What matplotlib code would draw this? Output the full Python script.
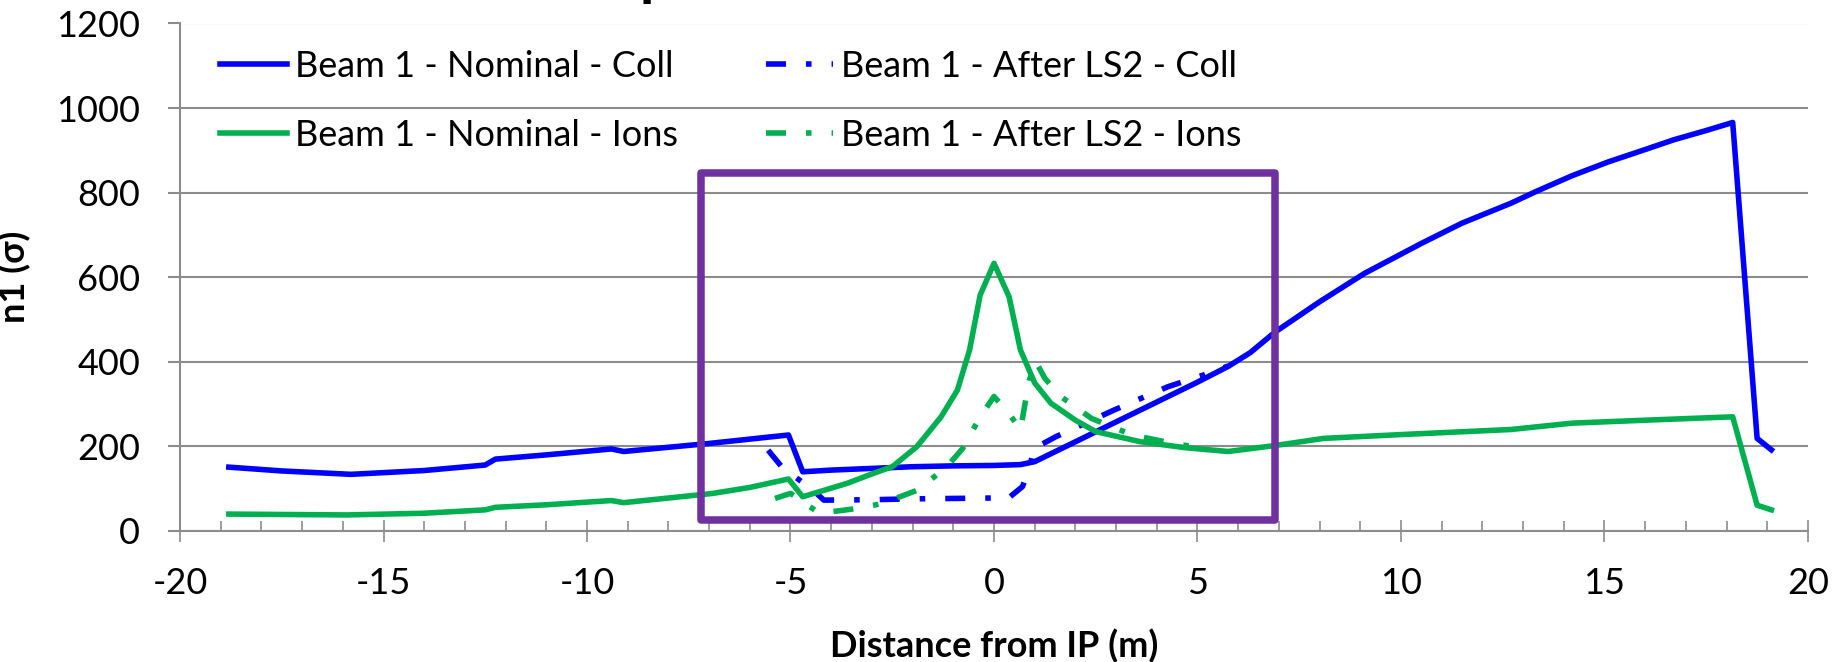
"""
n1 aperture vs distance from IP (Beam 1, nominal vs after LS2).
"""

from __future__ import annotations

import matplotlib
matplotlib.use("Agg")
import matplotlib.pyplot as plt
from matplotlib.patches import Rectangle
from matplotlib.ticker import MultipleLocator

# ---- data ----
x_nom_coll = [-18.8, -17.5, -15.8, -14.0, -12.5, -12.25, -11.0, -9.4, -9.1, -7.0,
              -5.05, -4.7, -4.0, -3.0, -2.0, -1.0, 0.0, 0.65, 1.0, 2.0, 3.0, 4.0,
              5.0, 5.75, 6.3, 6.9, 8.0, 9.1, 10.5, 11.5, 12.7, 13.3, 14.2, 15.1,
              16.0, 16.7, 17.5, 18.15, 18.75, 19.1]
y_nom_coll = [151, 142, 134, 143, 156, 170, 180, 194, 188, 207,
              227, 140, 144, 148, 152, 154, 155, 157, 164, 211, 258, 305,
              352, 389, 422, 470, 542, 609, 680, 728, 775, 802, 840, 873,
              902, 925, 947, 966, 219, 192]

x_ls2_coll = [-5.55, -5.2, -4.45, -4.18, -3.0, -2.0, -1.0, 0.0, 0.37, 0.7, 0.87,
              0.98, 1.52, 2.95, 4.27, 5.15, 5.75]
y_ls2_coll = [191, 150, 97, 73, 74, 76, 77, 78, 79, 105, 148,
              195, 223, 286, 341, 369, 390]

x_nom_ions = [-18.8, -15.9, -14.0, -12.5, -12.25, -11.0, -9.4, -9.1, -6.9, -6.0,
              -5.05, -4.7, -3.6, -3.0, -2.5, -1.9, -1.3, -0.9, -0.6, -0.34, 0.0,
              0.37, 0.65, 1.0, 1.4, 2.0, 2.5, 3.6, 4.7, 5.75, 6.9, 8.1, 10.0,
              12.7, 14.2, 16.0, 18.15, 18.75, 19.1]
y_nom_ions = [40, 38, 42, 50, 56, 62, 72, 67, 89, 103,
              123, 81, 113, 135, 152, 199, 270, 333, 428, 558, 633,
              554, 428, 350, 302, 262, 235, 211, 197, 188, 202, 219, 228,
              240, 255, 262, 270, 61, 50]

x_ls2_ions = [-5.38, -5.0, -4.29, -3.3, -2.75, -1.87, -1.16, -0.77, -0.34, 0.0,
              0.37, 0.65, 0.75, 0.87, 1.03, 1.25, 1.64, 2.4, 3.4, 4.4, 5.0]
y_ls2_ions = [77, 89, 42, 54, 65, 97, 152, 195, 270, 318,
              278, 239, 294, 357, 400, 361, 318, 266, 227, 207, 198]

labels = ["Beam 1 - Nominal - Coll", "Beam 1 - After LS2 - Coll",
          "Beam 1 - Nominal - Ions", "Beam 1 - After LS2 - Ions"]

BLUE = "#0000FF"
GREEN = "#00B050"
PURPLE = "#7030A0"
GRID = "#8C8C8C"
DASHDOT = (0, (3.6, 3.6, 1.0, 3.6))

plt.rcParams["font.family"] = ["Lato", "DejaVu Sans"]
plt.rcParams["font.size"] = 26
plt.rcParams["axes.unicode_minus"] = False


def main() -> None:
    fig = plt.figure(figsize=(18.41, 6.62), dpi=100)
    ax = fig.add_axes([180 / 1841, 131 / 662, 1628 / 1841, 507.5 / 662])

    lw = 4.0
    h_nc, = ax.plot(x_nom_coll, y_nom_coll, color=BLUE, lw=lw, solid_joinstyle="round")
    h_lc, = ax.plot(x_ls2_coll, y_ls2_coll, color=BLUE, lw=lw, linestyle=DASHDOT)
    h_ni, = ax.plot(x_nom_ions, y_nom_ions, color=GREEN, lw=lw, solid_joinstyle="round")
    h_li, = ax.plot(x_ls2_ions, y_ls2_ions, color=GREEN, lw=lw, linestyle=DASHDOT)

    # highlighted region around the IP
    ax.add_patch(Rectangle((-7.2, 26), 14.1, 821, fill=False, edgecolor=PURPLE,
                           linewidth=5.4, joinstyle="round", zorder=5))

    ax.set_xlim(-20, 20)
    ax.set_ylim(0, 1200)
    ax.xaxis.set_major_locator(MultipleLocator(5))
    ax.xaxis.set_minor_locator(MultipleLocator(1))
    ax.yaxis.set_major_locator(MultipleLocator(200))

    ax.grid(axis="y", color=GRID, lw=1.5)
    ax.set_axisbelow(True)
    for side in ("top", "right"):
        ax.spines[side].set_visible(False)
    for side in ("left", "bottom"):
        ax.spines[side].set_color(GRID)
        ax.spines[side].set_linewidth(1.5)

    ax.tick_params(axis="y", which="major", direction="out", length=8.6, width=1.5,
                   color=GRID, pad=20)
    ax.tick_params(axis="x", which="major", direction="inout", length=16.5, width=1.2,
                   color=GRID, pad=17.5)
    ax.tick_params(axis="x", which="minor", direction="in", length=7, width=1.2,
                   color=GRID)

    ax.set_xlabel("Distance from IP (m)", fontweight="bold", labelpad=21)
    ax.set_ylabel("n1 (σ)", fontweight="bold", labelpad=18)

    ax.legend([h_nc, h_ni, h_lc, h_li],
              [labels[0], labels[2], labels[1], labels[3]],
              ncol=2, loc="upper left", bbox_to_anchor=(0.0246, 0.948),
              frameon=False, borderpad=0, borderaxespad=0,
              handlelength=1.85, handletextpad=0.22, columnspacing=2.45,
              labelspacing=1.0)

    # clipped title above the figure (only a descender shows)
    fig.text(0.3475, 1.007, "p", fontsize=30, fontweight="bold",
             family="DejaVu Sans", va="baseline", ha="left")

    fig.savefig("out.png", dpi=100)
    plt.close(fig)


if __name__ == "__main__":
    main()
